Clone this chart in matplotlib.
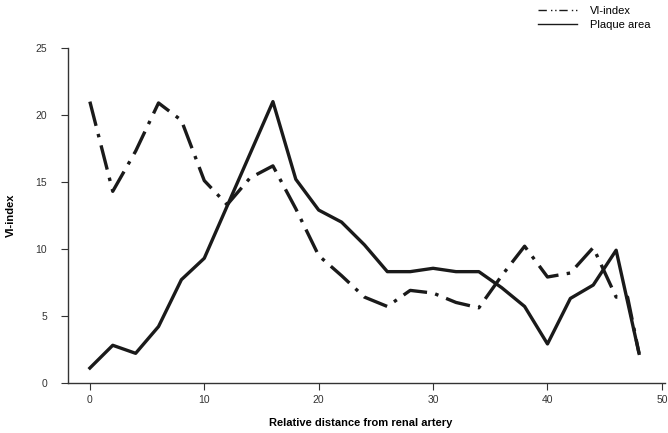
import matplotlib.pyplot as plt

plt.rcParams['font.family'] = ['Liberation Sans', 'DejaVu Sans']
plt.rcParams['lines.scale_dashes'] = False

# relative distance from renal artery
dist_vi = [0, 2, 4, 6, 8, 10, 12, 14, 16, 18, 20, 22, 24, 26, 28, 30, 32, 34,
           36, 38, 40, 42, 44, 46, 47, 48]
vi_index = [21.0, 14.3, 17.3, 20.9, 19.6, 15.1, 13.3, 15.3, 16.2, 13.0, 9.5, 8.0,
            6.4, 5.7, 6.9, 6.7, 6.0, 5.6, 8.0, 10.2, 7.9, 8.2, 10.1, 6.4, 6.4, 2.2]

dist_pa = [0, 2, 4, 6, 8, 10, 12, 14, 16, 18, 20, 22, 24, 26, 28, 30, 32, 34,
           36, 38, 40, 42, 44, 46, 48]
plaque_area = [1.1, 2.8, 2.2, 4.2, 7.7, 9.3, 13.2, 17.1, 21.0, 15.2, 12.9, 12.0,
               10.3, 8.3, 8.3, 8.55, 8.3, 8.3, 7.1, 5.7, 2.9, 6.3, 7.3, 9.9, 2.2]

fig = plt.figure(figsize=(6.68, 4.33), dpi=100)
ax = fig.add_axes([0.102, 0.116, 0.894, 0.773])

ax.plot(dist_vi, vi_index, color='#1a1a1a', lw=2.4,
        linestyle=(0, (18, 6, 2.5, 6)), label='VI-index')
ax.plot(dist_pa, plaque_area, color='#1a1a1a', lw=2.4, label='Plaque area')

ax.set_xlim(-1.9, 50.3)
ax.set_ylim(0, 25)
ax.set_xticks([0, 10, 20, 30, 40, 50])
ax.set_yticks([0, 5, 10, 15, 20, 25])
ax.spines['top'].set_visible(False)
ax.spines['right'].set_visible(False)
for s in ['left', 'bottom']:
    ax.spines[s].set_color('#333333')
    ax.spines[s].set_linewidth(1.0)
ax.tick_params(axis='both', labelsize=7.5, colors='#333333', length=5)
ax.tick_params(axis='x', pad=4)
ax.tick_params(axis='y', pad=10)

ax.set_xlabel('Relative distance from renal artery', fontsize=8, fontweight='bold')
ax.set_ylabel('VI-index', fontsize=8, fontweight='bold')
ax.xaxis.set_label_coords(0.49, -0.106)
ax.yaxis.set_label_coords(-0.088, 0.5)

leg = fig.legend(loc='upper left', bbox_to_anchor=(0.79, 1.01), frameon=False,
                 fontsize=8, handlelength=3.5, labelspacing=0.35, handletextpad=1.2)
for h in leg.legend_handles:
    h.set_linewidth(1.0)
leg.legend_handles[0].set_linestyle((0, (6, 3, 1, 2, 1, 2)))

plt.savefig('out.png', dpi=100)
